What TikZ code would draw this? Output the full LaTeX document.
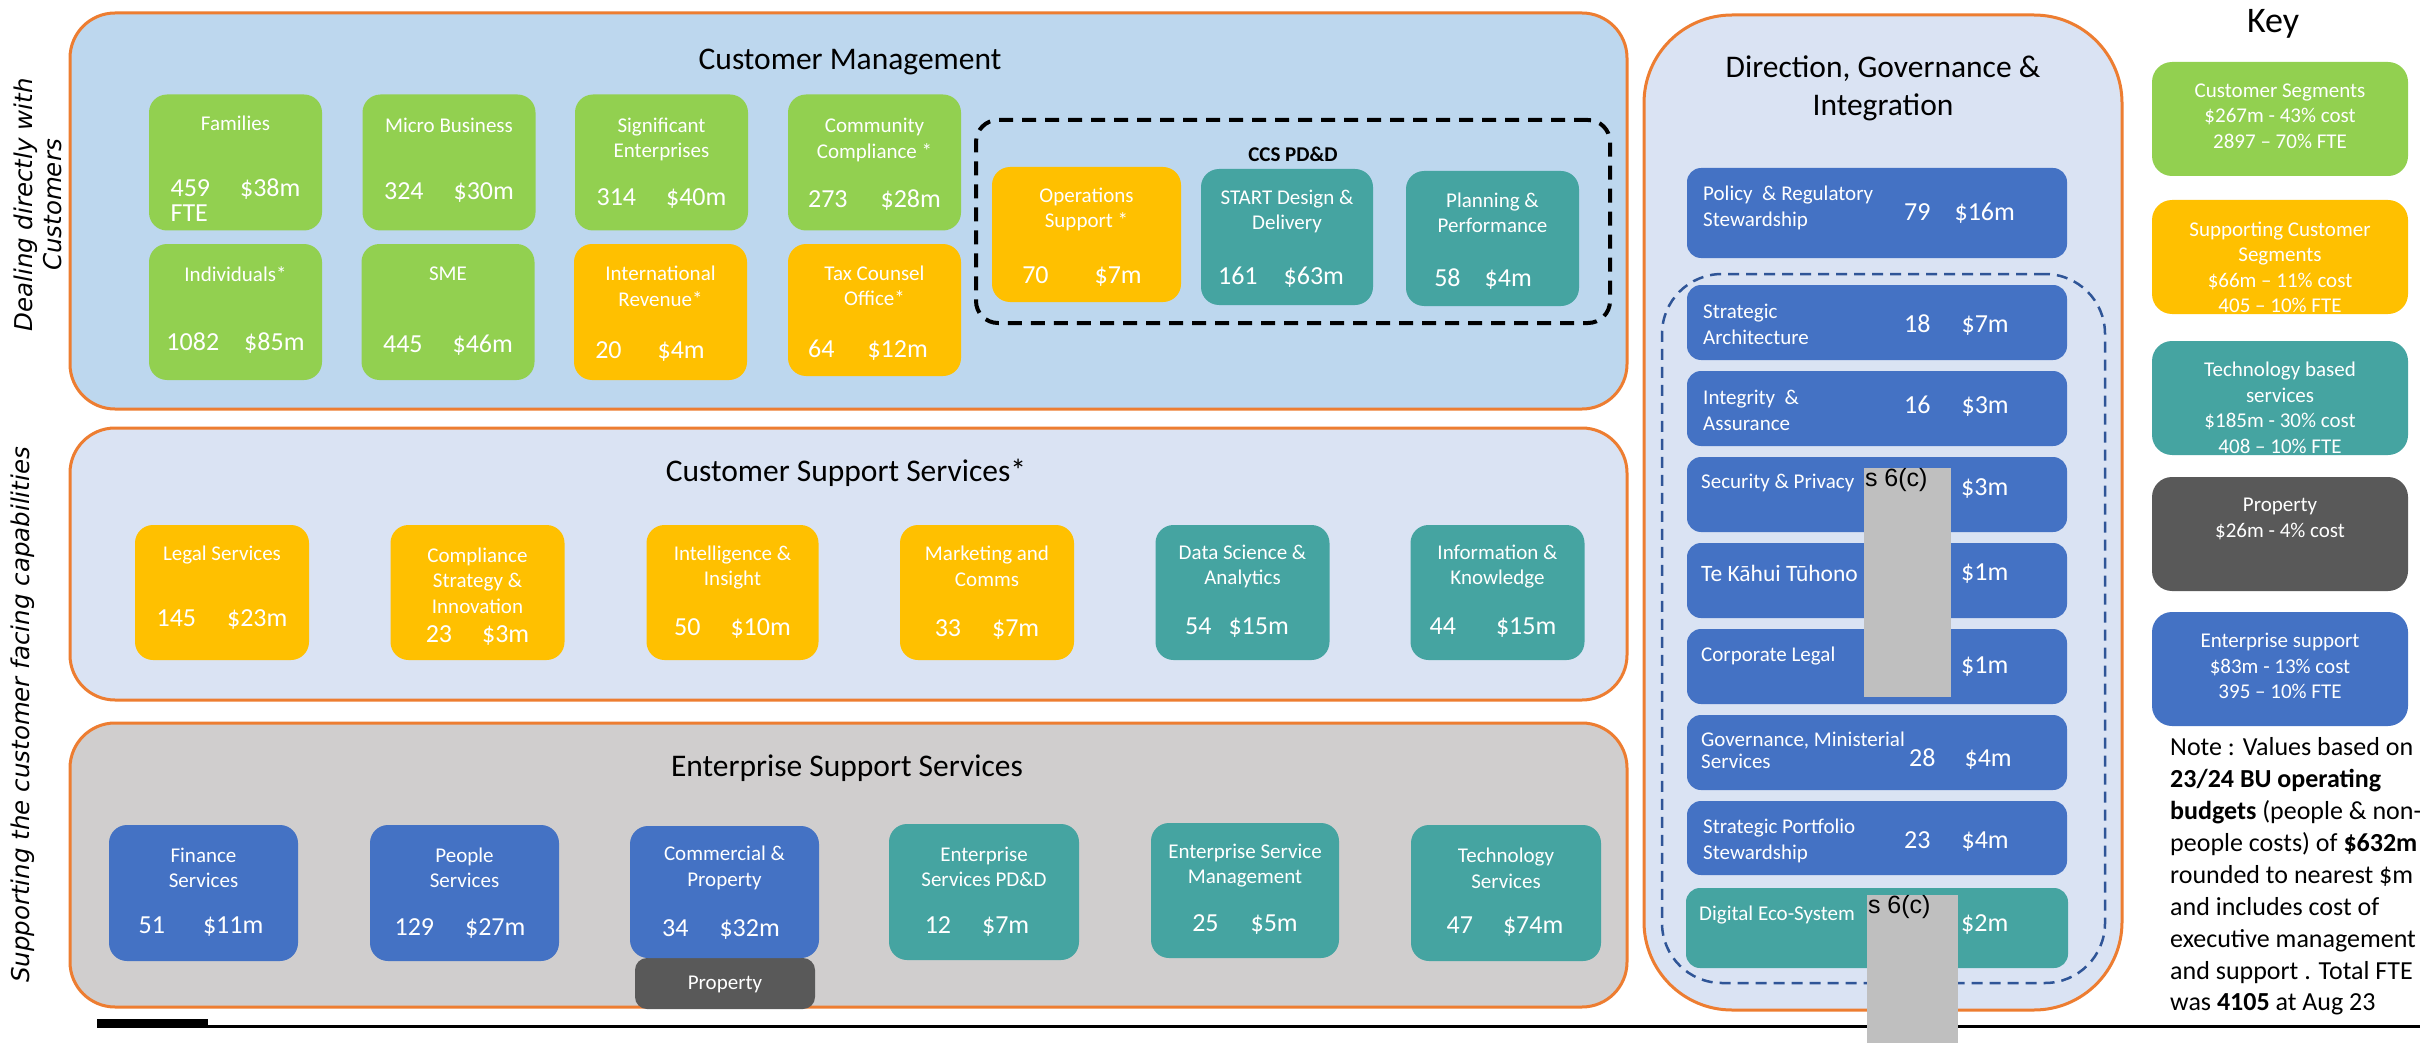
\documentclass[tikz,border=0pt]{standalone}
\usepackage{fontspec}
\setmainfont{Carlito}
\newfontfamily\sidefont{DejaVu Sans}
\newfontfamily\maskfont{Liberation Sans}
\usepackage{tikz}

\definecolor{seggreen}{HTML}{92D050}
\definecolor{suporange}{HTML}{FFC000}
\definecolor{techteal}{HTML}{45A4A1}
\definecolor{entblue}{HTML}{4472C4}
\definecolor{propgrey}{HTML}{595959}
\definecolor{cmfill}{HTML}{BDD7EE}
\definecolor{panelfill}{HTML}{DAE3F3}
\definecolor{essfill}{HTML}{D0CECE}
\definecolor{edgeorange}{HTML}{ED7D31}
\definecolor{dashblue}{HTML}{2F5597}
\definecolor{maskgrey}{HTML}{BFBFBF}

% FTE count and cost in $m, with the gap between them
\newcommand{\ftecost}[3][30pt]{#2\hspace{#1}\$#3m}

\tikzset{
  panel/.style={draw=edgeorange, line width=3pt, rounded corners=45pt, inner sep=0pt},
  unit/.style={rounded corners=18pt, inner sep=0pt, minimum width=173pt, minimum height=136pt},
  lbl/.style={text=white, align=center, inner sep=0pt, font=\fontsize{21}{25.5}\selectfont},
  num/.style={text=white, inner sep=0pt, font=\fontsize{26}{25}\selectfont},
  ttl/.style={inner sep=0pt, align=center, font=\fontsize{31.5}{38}\selectfont},
  dgibox/.style={fill=entblue, rounded corners=14pt, inner sep=0pt, minimum width=380pt, minimum height=75pt},
  dgilbl/.style={lbl, anchor=west, align=left},
  keybox/.style={rounded corners=20pt, inner sep=0pt, minimum width=256pt, minimum height=114pt},
  side/.style={rotate=90, align=center, inner sep=0pt, font=\sidefont\itshape\fontsize{24.5}{28.5}\selectfont},
  mask/.style={fill=maskgrey, inner sep=0pt},
  masktxt/.style={inner sep=0pt, anchor=north west, font=\maskfont\fontsize{25}{28}\selectfont},
}

\begin{document}
\begin{tikzpicture}[x=1pt, y=-1pt]
\path[use as bounding box, fill=white] (0,0) rectangle (2420,1043);

% side captions
\node[side] (sideA) at (38,205) {Dealing directly with\\Customers};
\node[side] (sideB) at (23,715) {Supporting the customer facing capabilities};

% the three business panels
\node[panel, fill=cmfill, minimum width=1557pt, minimum height=396pt] (cm) at (848.5,211) {};
\node[panel, fill=panelfill, minimum width=1557pt, minimum height=272pt] (css) at (848.5,564) {};
\node[panel, fill=essfill, minimum width=1557pt, minimum height=284pt] (ess) at (848.5,865) {};
\node[ttl] (cmT) at (850,62) {Customer Management};
\node[ttl] (cssT) at (846,473) {Customer Support Services*};
\node[ttl] (essT) at (847,768) {Enterprise Support Services};

% Customer Management
\node[unit, fill=seggreen] (fam) at (235.5,162.5) {};
\node[lbl] (famL) at (235.5,123) {Families};
\node[num, align=left] (famN) at (235.5,200.5) {\ftecost{459}{38}\\FTE};
\node[unit, fill=seggreen] (micro) at (449,162.5) {};
\node[lbl] (microL) at (449,125) {Micro Business};
\node[num] (microN) at (449,193) {\ftecost{324}{30}};
\node[unit, fill=seggreen] (sig) at (661.5,162.5) {};
\node[lbl] (sigL) at (661.5,139.5) {Significant\\Enterprises};
\node[num] (sigN) at (661.5,199) {\ftecost{314}{40}};
\node[unit, fill=seggreen] (comm) at (874.5,162.5) {};
\node[lbl] (commL) at (874.5,140) {Community\\Compliance *};
\node[num] (commN) at (874.5,200) {\ftecost[33pt]{273}{28}};
\node[unit, fill=seggreen] (ind) at (235.5,312) {};
\node[lbl] (indL) at (235.5,274) {Individuals*};
\node[num] (indN) at (235.5,343) {\ftecost[25pt]{1082}{85}};
\node[unit, fill=seggreen] (sme) at (448,312) {};
\node[lbl] (smeL) at (448,274) {SME};
\node[num] (smeN) at (448,345) {\ftecost{445}{46}};
\node[unit, fill=suporange] (intl) at (660.5,312) {};
\node[lbl] (intlL) at (660.5,286.5) {International\\Revenue*};
\node[num] (intlN) at (650,352) {\ftecost[36pt]{20}{4}};
\node[unit, fill=suporange, minimum height=132pt] (tax) at (874.5,310) {};
\node[lbl] (taxL) at (874.5,286) {Tax Counsel\\Office*};
\node[num] (taxN) at (868,350) {\ftecost[33pt]{64}{12}};

% CCS PD&D group
\node[draw=black, line width=4pt, dash pattern=on 14pt off 9pt, rounded corners=22pt,
      inner sep=0pt, minimum width=634pt, minimum height=203pt] (ccs) at (1293,221.5) {};
\node[inner sep=0pt, font=\bfseries\fontsize{21}{25}\selectfont] (ccsT) at (1293,154) {CCS PD\&D};
\node[unit, fill=suporange, minimum width=189pt, minimum height=135pt] (ops) at (1086.5,234.5) {};
\node[lbl] (opsL) at (1086.5,209.5) {Operations\\Support *};
\node[num] (opsN) at (1082,277) {\ftecost[46pt]{70}{7}};
\node[unit, fill=techteal, minimum width=172pt] (start) at (1287,237) {};
\node[lbl] (startL) at (1287,211.5) {START Design \&\\Delivery};
\node[num] (startN) at (1281,277) {\ftecost[26pt]{161}{63}};
\node[unit, fill=techteal, minimum height=135pt] (plan) at (1492.5,238.5) {};
\node[lbl] (planL) at (1492.5,213) {Planning \&\\Performance};
\node[num] (planN) at (1483,279) {\ftecost[24pt]{58}{4}};

% Customer Support Services
\node[unit, fill=suporange, minimum width=174pt, minimum height=135pt] (legal) at (222,592.5) {};
\node[lbl] (legalL) at (222,555) {Legal Services};
\node[num] (legalN) at (222,620) {\ftecost[31pt]{145}{23}};
\node[unit, fill=suporange, minimum width=174pt, minimum height=135pt] (compl) at (477.5,592.5) {};
\node[lbl] (complL) at (477.5,580.5) {Compliance\\Strategy \&\\Innovation};
\node[num] (complN) at (477.5,636) {\ftecost{23}{3}};
\node[unit, fill=suporange, minimum width=172pt, minimum height=135pt] (intel) at (732.5,592.5) {};
\node[lbl] (intelL) at (732.5,567.5) {Intelligence \&\\Insight};
\node[num] (intelN) at (732.5,629) {\ftecost{50}{10}};
\node[unit, fill=suporange, minimum width=174pt, minimum height=135pt] (mkt) at (987,592.5) {};
\node[lbl] (mktL) at (987,566.5) {Marketing and\\Comms};
\node[num] (mktN) at (987,630) {\ftecost[31pt]{33}{7}};
\node[unit, fill=techteal, minimum width=174pt, minimum height=135pt] (data) at (1242.5,592.5) {};
\node[lbl] (dataL) at (1242.5,566.5) {Data Science \&\\Analytics};
\node[num] (dataN) at (1237,628) {\ftecost[17pt]{54}{15}};
\node[unit, fill=techteal, minimum width=174pt, minimum height=135pt] (info) at (1497.5,592.5) {};
\node[lbl] (infoL) at (1497.5,566.5) {Information \&\\Knowledge};
\node[num] (infoN) at (1493,628) {\ftecost[40pt]{44}{15}};

% Enterprise Support Services
\node[unit, fill=entblue, minimum width=189pt] (fin) at (203.5,893) {};
\node[lbl] (finL) at (203.5,868) {Finance\\Services};
\node[num] (finN) at (201,927) {\ftecost[38pt]{51}{11}};
\node[unit, fill=entblue, minimum width=189pt] (ppl) at (464.5,893) {};
\node[lbl] (pplL) at (464.5,868) {People\\Services};
\node[num] (pplN) at (460,929) {\ftecost[31pt]{129}{27}};
\node[unit, fill=propgrey, rounded corners=12pt, minimum width=180pt, minimum height=51pt] (prop) at (725,983.5) {};
\node[lbl] (propL) at (725,984) {Property};
\node[unit, fill=entblue, minimum width=189pt, minimum height=132pt] (cmp) at (724.5,892) {};
\node[lbl] (cmpL) at (724.5,868) {Commercial \&\\Property};
\node[num] (cmpN) at (721,930) {\ftecost[31pt]{34}{32}};
\node[unit, fill=techteal, minimum width=190pt] (espd) at (984,892) {};
\node[lbl] (espdL) at (984,867) {Enterprise\\Services PD\&D};
\node[num] (espdN) at (977,927) {\ftecost[31pt]{12}{7}};
\node[unit, fill=techteal, minimum width=188pt, minimum height=135pt] (esm) at (1245,890.5) {};
\node[lbl] (esmL) at (1245,865.5) {Enterprise Service\\Management};
\node[num] (esmN) at (1245,925) {\ftecost[32pt]{25}{5}};
\node[unit, fill=techteal, minimum width=190pt] (tech) at (1506,893) {};
\node[lbl] (techL) at (1506,868.5) {Technology\\Services};
\node[num] (techN) at (1505,927) {\ftecost{47}{74}};

% Direction, Governance & Integration
\node[panel, fill=panelfill, rounded corners=88pt, minimum width=478pt, minimum height=995pt] (dgi) at (1883,512.5) {};
\node[ttl] (dgiT) at (1883,88) {Direction, Governance \&\\Integration};
\node[draw=dashblue, line width=2.5pt, dash pattern=on 11pt off 7pt, rounded corners=60pt,
      inner sep=0pt, minimum width=443pt, minimum height=709pt] (dgiset) at (1883.5,628.5) {};
\node[dgibox, minimum height=90pt] (pol) at (1877,213) {};
\node[dgilbl] (polL) at (1703,208) {Policy\ \ \& Regulatory\\Stewardship};
\node[num, anchor=west] (polN) at (1904,213) {\ftecost[24pt]{79}{16}};
\node[dgibox] (sarch) at (1877,322.5) {};
\node[dgilbl] (sarchL) at (1703,324.5) {Strategic\\Architecture};
\node[num, anchor=west] (sarchN) at (1904,325) {\ftecost[31pt]{18}{7}};
\node[dgibox] (integ) at (1877,408.5) {};
\node[dgilbl] (integL) at (1703,410.5) {Integrity\ \ \&\\Assurance};
\node[num, anchor=west] (integN) at (1904,406) {\ftecost[31pt]{16}{3}};
\node[dgibox] (secp) at (1877,494.5) {};
\node[dgilbl] (secpL) at (1701,483) {Security \& Privacy};
\node[num, anchor=west] (secpN) at (1961,489) {\$3m};
\node[dgibox] (tkt) at (1877,580.5) {};
\node[dgilbl, font=\fontsize{23.5}{28}\selectfont] (tktL) at (1701,573) {Te Kāhui Tūhono};
\node[num, anchor=west] (tktN) at (1961,574) {\$1m};
\node[dgibox] (corp) at (1877,666.5) {};
\node[dgilbl] (corpL) at (1701,656) {Corporate Legal};
\node[num, anchor=west] (corpN) at (1961,667) {\$1m};
\node[dgibox] (gov) at (1877,752.5) {};
\node[dgilbl, font=\fontsize{21}{22}\selectfont] (govL) at (1701,750) {Governance, Ministerial\\Services};
\node[num, anchor=west] (govN) at (1909,759) {\ftecost[29pt]{28}{4}};
\node[dgibox, minimum height=74pt] (spf) at (1877,838) {};
\node[dgilbl] (spfL) at (1703,841) {Strategic Portfolio\\Stewardship};
\node[num, anchor=west] (spfN) at (1904,842) {\ftecost[31pt]{23}{4}};
\node[dgibox, fill=techteal, minimum width=382pt, minimum height=80pt] (dig) at (1877,928) {};
\node[dgilbl] (digL) at (1699,915) {Digital Eco-System};
\node[num, anchor=west] (digN) at (1961,925) {\$2m};

% Key
\node[inner sep=0pt, font=\fontsize{36}{40}\selectfont] (key) at (2273,24) {Key};
\node[keybox, fill=seggreen] (keyA) at (2280,119) {};
\node[lbl] (keyAL) at (2280,116) {Customer Segments\\\$267m - 43\% cost\\2897 -- 70\% FTE};
\node[keybox, fill=suporange] (keyB) at (2280,257) {};
\node[lbl] (keyBL) at (2280,267.5) {Supporting Customer\\Segments\\\$66m -- 11\% cost\\405 -- 10\% FTE};
\node[keybox, fill=techteal] (keyC) at (2280,398) {};
\node[lbl] (keyCL) at (2280,408) {Technology based\\services\\\$185m - 30\% cost\\408 -- 10\% FTE};
\node[keybox, fill=propgrey] (keyD) at (2280,534) {};
\node[lbl] (keyDL) at (2280,519) {Property\\\$26m - 4\% cost};
\node[keybox, fill=entblue] (keyE) at (2280,669) {};
\node[lbl] (keyEL) at (2280,666) {Enterprise support\\\$83m - 13\% cost\\395 -- 10\% FTE};
\node[anchor=west, align=left, inner sep=0pt, font=\fontsize{26}{31.9}\selectfont] (note) at (2170,876.5)
  {Note : Values based on\\\textbf{23/24 BU operating}\\\textbf{budgets} (people \& non-\\people costs) of \textbf{\$632m}\\rounded to nearest \$m\\and includes cost of\\executive management\\and support . Total FTE\\was \textbf{4105} at Aug 23};

% footer rule
\coordinate (ruleL) at (97,1026);
\coordinate (ruleR) at (2420,1026);
\draw[line width=3pt] (ruleL) -- (ruleR);
\node[fill=black, inner sep=0pt, anchor=south west, minimum width=111pt, minimum height=9pt] (bar) at (97,1028) {};

% withheld figures
\node[mask, minimum width=87pt, minimum height=229pt] (red1) at (1907.5,582.5) {};
\node[masktxt] (red1T) at ([xshift=1pt]red1.north west) {s 6(c)};
\node[mask, minimum width=91pt, minimum height=170pt] (red2) at (1912.5,980) {};
\node[masktxt] (red2T) at ([xshift=1pt]red2.north west) {s 6(c)};
\end{tikzpicture}
\end{document}
